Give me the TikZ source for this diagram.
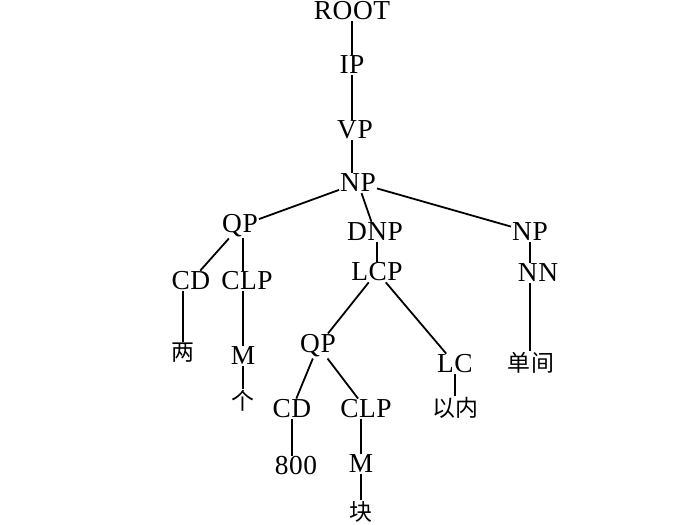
\documentclass[tikz,border=0pt]{standalone}
\usepackage{fontspec}
\setmainfont{Liberation Serif}[LetterSpace=2]
\newfontfamily\cjk{Noto Sans CJK SC}
\begin{document}
\begin{tikzpicture}[x=1bp,y=-1bp,
  lab/.style={inner sep=1pt,font=\fontsize{27.5}{30}\selectfont},
  zh/.style={inner sep=1pt,font=\fontsize{23}{26}\cjk},
  edge/.style={line width=1.8pt}]
\useasboundingbox (0,0) rectangle (700,525);
\node[lab] (root) at (352,11) {ROOT};
\node[lab] (ip) at (352,65) {IP};
\node[lab] (vp) at (355,130) {VP};
\node[lab] (np) at (358,183) {NP};
\node[lab] (qp1) at (240,226) {QP};
\node[lab] (dnp) at (375,232) {DNP};
\node[lab] (npr) at (530,232) {NP};
\node[lab] (lcp) at (377,272) {LCP};
\node[lab] (nn) at (538,273) {NN};
\node[lab] (cd1) at (191,281) {CD};
\node[lab] (clp1) at (247,281) {CLP};
\node[zh] (liang) at (183,353) {两};
\node[lab] (m1) at (243,356) {M};
\node[zh] (ge) at (243,401) {个};
\node[lab] (qp2) at (318,346) {QP};
\node[lab] (lc) at (455,364) {LC};
\node[zh] (danjian) at (531,363) {单\hspace{2pt}间};
\node[lab] (cd2) at (292,409) {CD};
\node[lab] (clp2) at (366,409) {CLP};
\node[zh] (yinei) at (455,408) {以内};
\node[lab] (n800) at (296,466) {800};
\node[lab] (m2) at (361,464) {M};
\node[zh] (kuai) at (361,512) {块};
\draw[edge] (ip.north -| root) -- (root.south);
\draw[edge] (vp.north -| ip) -- (ip.south);
\draw[edge] (np.north -| ip) -- (vp.south -| ip);
\draw[edge] (np) -- (qp1);
\draw[edge] (np) -- (dnp);
\draw[edge] (np) -- (npr);
\draw[edge] (qp1) -- (cd1);
\draw[edge] (clp1.north -| m1) -- (qp1.south -| m1);
\draw[edge] (liang.north) -- (liang.north |- cd1.south);
\draw[edge] (m1.north) -- (m1.north |- clp1.south);
\draw[edge] (ge.north) -- (ge.north |- m1.south);
\draw[edge] (lcp.north) -- (lcp.north |- dnp.south);
\draw[edge] (lcp) -- (qp2);
\draw[edge] (lcp) -- (lc);
\draw[edge] (nn.north -| npr) -- (npr.south);
\draw[edge] (danjian.north -| npr) -- (nn.south -| npr);
\draw[edge] (yinei.north -| lc) -- (lc.south);
\draw[edge] (qp2) -- (cd2);
\draw[edge] (qp2) -- (clp2);
\draw[edge] (n800.north -| cd2) -- (cd2.south);
\draw[edge] (m2.north) -- (m2.north |- clp2.south);
\draw[edge] (kuai.north) -- (m2.south);
\end{tikzpicture}
\end{document}
